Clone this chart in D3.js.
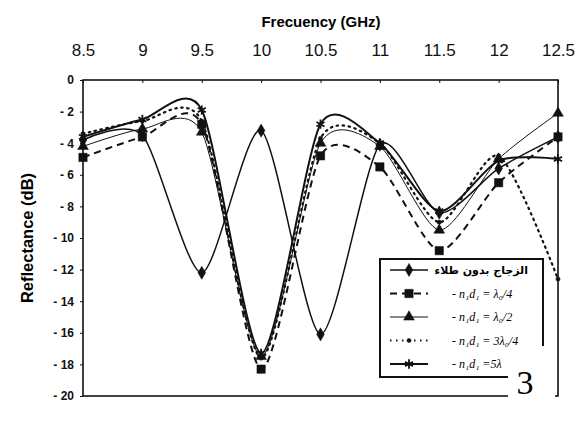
<!DOCTYPE html>
<html lang="en">
<head>
<meta charset="UTF-8">
<title>Reflectance vs Frequency</title>
<style>
    body { margin: 0; background: #fff; }
    svg { display: block; font-family: "Liberation Sans", Arial, sans-serif; }
    .axis text { fill: #111; }
    .axis path, .axis line { stroke: #111; }
</style>
</head>
<body>
<div id="chart"></div>
<script src="https://d3js.org/d3.v7.min.js"></script>
<script>
    // frequencies (GHz) and reflectance (dB)
    const freqs = [8.5, 9, 9.5, 10, 10.5, 11, 11.5, 12, 12.5];
    const noCoating = [-3.8, -3.5, -12.2, -3.2, -16.1, -4.1, -8.4, -5.6, -3.6];
    const quarterWave = [-4.9, -3.6, -2.8, -18.3, -4.8, -5.5, -10.8, -6.5, -3.6];
    const halfWave = [-4.2, -3.1, -3.3, -17.5, -4.0, -4.2, -9.5, -5.0, -2.1];
    const threeQuarterWave = [-3.4, -2.6, -2.6, -17.6, -3.7, -4.0, -9.0, -4.8, -12.6];
    const fiveQuarterWave = [-3.6, -2.5, -1.9, -17.3, -2.8, -4.0, -8.3, -5.1, -5.0];

    const xTicks = [8.5, 9, 9.5, 10, 10.5, 11, 11.5, 12, 12.5];
    const yTicks = [0, -2, -4, -6, -8, -10, -12, -14, -16, -18, -20];

    // last name is cut by the page-number patch in the scan
    const seriesNames = [
        "الزجاج بدون طلاء",
        "- n₁d₁ = λ₀/4",
        "- n₁d₁ = λ₀/2",
        "- n₁d₁ = 3λ₀/4",
        "- n₁d₁ =5λ"
    ];

    const series = [
        {name: seriesNames[0], values: noCoating, width: 1.5, dash: null, symbol: d3.symbolDiamond, size: 50, fill: true},
        {name: seriesNames[1], values: quarterWave, width: 2, dash: "7,5", symbol: d3.symbolSquare, size: 70, fill: true},
        {name: seriesNames[2], values: halfWave, width: 1, dash: null, symbol: d3.symbolTriangle, size: 50, fill: true},
        {name: seriesNames[3], values: threeQuarterWave, width: 2.2, dash: "1.5,4.5", symbol: d3.symbolCircle, size: 14, fill: true},
        {name: seriesNames[4], values: fiveQuarterWave, width: 2, dash: null, symbol: d3.symbolAsterisk, size: 60, fill: false}
    ];

    const W = 585, H = 426;
    const margin = {top: 80, right: 27, bottom: 30, left: 83};
    const width = W - margin.left - margin.right;
    const height = H - margin.top - margin.bottom;

    const svg = d3.select("#chart").append("svg")
        .attr("width", W)
        .attr("height", H);

    const g = svg.append("g")
        .attr("transform", "translate(" + margin.left + "," + margin.top + ")");

    const x = d3.scaleLinear().domain([8.5, 12.5]).range([0, width]);
    const y = d3.scaleLinear().domain([0, -20]).range([0, height]);

    // top axis
    const xAxis = g.append("g")
        .attr("class", "axis")
        .call(d3.axisTop(x).tickValues(xTicks).tickSize(-3).tickPadding(24).tickFormat(d => d));
    xAxis.select(".domain").remove();
    xAxis.selectAll("text").style("font-size", "17px");

    // left axis
    const yAxis = g.append("g")
        .attr("class", "axis")
        .call(d3.axisLeft(y).tickValues(yTicks).tickSize(3).tickPadding(6)
            .tickFormat(d => d === 0 ? "0" : "- " + Math.abs(d)));
    yAxis.select(".domain").remove();
    yAxis.selectAll("text").style("font-size", "12px").style("font-weight", "bold");

    // frame
    g.append("rect")
        .attr("width", width)
        .attr("height", height)
        .attr("fill", "none")
        .attr("stroke", "#111")
        .attr("stroke-width", 1.6);

    // axis titles
    svg.append("text")
        .attr("x", 321)
        .attr("y", 27)
        .attr("text-anchor", "middle")
        .style("font-size", "15px")
        .style("font-weight", "bold")
        .text("Frecuency (GHz)");

    svg.append("text")
        .attr("transform", "translate(33," + (margin.top + height / 2) + ") rotate(-90)")
        .attr("text-anchor", "middle")
        .style("font-size", "16.5px")
        .style("font-weight", "bold")
        .text("Reflectance (dB)");

    const line = d3.line()
        .x((d, i) => x(freqs[i]))
        .y(d => y(d))
        .curve(d3.curveCardinal.tension(0.25));

    series.forEach(s => {
        g.append("path")
            .datum(s.values)
            .attr("fill", "none")
            .attr("stroke", "#111")
            .attr("stroke-width", s.width)
            .attr("stroke-linecap", s.dash && s.width > 2 ? "round" : "butt")
            .attr("stroke-dasharray", s.dash)
            .attr("d", line);
    });

    function drawMarker(sel, s, cx, cy) {
        const sym = d3.symbol().type(s.symbol).size(s.size);
        sel.append("path")
            .attr("transform", "translate(" + cx + "," + cy + ")")
            .attr("d", sym())
            .attr("fill", s.fill ? "#111" : "none")
            .attr("stroke", "#111")
            .attr("stroke-width", s.fill ? 0.5 : 1.8);
    }

    series.forEach(s => {
        s.values.forEach((v, i) => drawMarker(g, s, x(freqs[i]), y(v)));
    });

    // legend
    const legend = svg.append("g").attr("transform", "translate(380,259)");
    legend.append("rect")
        .attr("width", 163)
        .attr("height", 118)
        .attr("fill", "#fff")
        .attr("stroke", "#111")
        .attr("stroke-width", 2);

    series.forEach((s, i) => {
        const ry = 11 + i * 23.5;
        legend.append("line")
            .attr("x1", 10).attr("x2", 48)
            .attr("y1", ry).attr("y2", ry)
            .attr("stroke", "#111")
            .attr("stroke-width", s.width)
            .attr("stroke-dasharray", s.dash);
        drawMarker(legend, s, 29, ry);
        const t = legend.append("text")
            .attr("y", ry + 4)
            .style("font-size", i === 0 ? "11px" : "12px")
            .style("font-weight", i === 0 ? "bold" : "normal")
            .style("font-style", i === 0 ? "normal" : "italic")
            .style("font-family", i === 0 ? "'DejaVu Sans', sans-serif" : "'Liberation Serif', serif")
            .text(s.name);
        if (i === 0) t.attr("x", 148).attr("text-anchor", "end");
        else t.attr("x", 72).attr("text-anchor", "start");
    });

    // white patch with page number over the corner
    svg.append("rect")
        .attr("x", 508).attr("y", 346)
        .attr("width", 47).attr("height", 52)
        .attr("fill", "#fff");
    svg.append("text")
        .attr("x", 525)
        .attr("y", 394)
        .attr("text-anchor", "middle")
        .style("font-family", "'Liberation Serif', serif")
        .style("font-size", "34px")
        .text("3");
</script>
</body>
</html>
